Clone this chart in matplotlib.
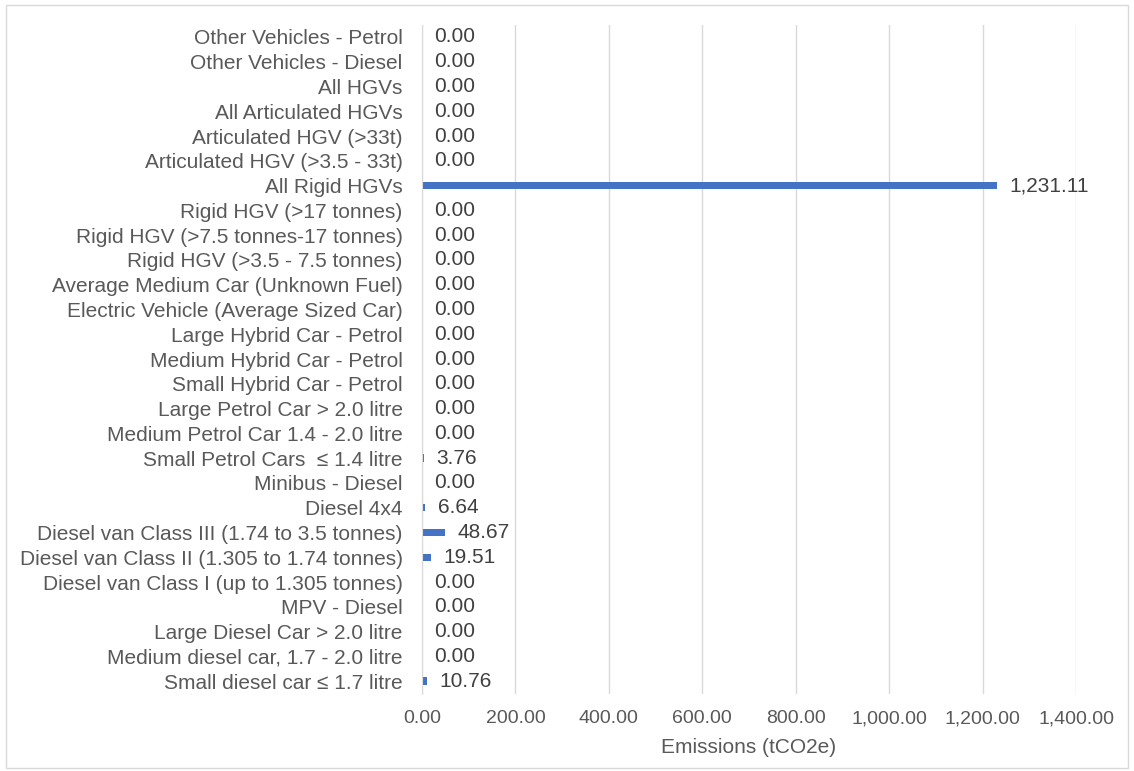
import matplotlib.pyplot as plt
from matplotlib.ticker import FuncFormatter, MultipleLocator

plt.rcParams['font.family'] = ['Liberation Sans', 'DejaVu Sans']

# vehicle types, listed bottom to top
vehicles = [
    "Small diesel car \u2264 1.7 litre",
    "Medium diesel car, 1.7 - 2.0 litre",
    "Large Diesel Car > 2.0 litre",
    "MPV - Diesel",
    "Diesel van Class I (up to 1.305 tonnes)",
    "Diesel van Class II (1.305 to 1.74 tonnes)",
    "Diesel van Class III (1.74 to 3.5 tonnes)",
    "Diesel 4x4",
    "Minibus - Diesel",
    "Small Petrol Cars  \u2264 1.4 litre",
    "Medium Petrol Car 1.4 - 2.0 litre",
    "Large Petrol Car > 2.0 litre",
    "Small Hybrid Car - Petrol",
    "Medium Hybrid Car - Petrol",
    "Large Hybrid Car - Petrol",
    "Electric Vehicle (Average Sized Car)",
    "Average Medium Car (Unknown Fuel)",
    "Rigid HGV (>3.5 - 7.5 tonnes)",
    "Rigid HGV (>7.5 tonnes-17 tonnes)",
    "Rigid HGV (>17 tonnes)",
    "All Rigid HGVs",
    "Articulated HGV (>3.5 - 33t)",
    "Articulated HGV (>33t)",
    "All Articulated HGVs",
    "All HGVs",
    "Other Vehicles - Diesel",
    "Other Vehicles - Petrol",
]
emissions = [10.76, 0.00, 0.00, 0.00, 0.00, 19.51, 48.67, 6.64, 0.00, 3.76,
             0.00, 0.00, 0.00, 0.00, 0.00, 0.00, 0.00, 0.00, 0.00, 0.00,
             1231.11, 0.00, 0.00, 0.00, 0.00, 0.00, 0.00]

text_col = '#595959'
bar_col = '#4472C4'

fig = plt.figure(figsize=(11.34, 7.71), dpi=100)
ax = fig.add_axes([422 / 1134, 1 - 693.5 / 771, 654 / 1134, 669 / 771])

ypos = range(len(vehicles))
bars = ax.barh(ypos, emissions, height=0.3, color=bar_col, zorder=3)

for y, v in zip(ypos, emissions):
    ax.annotate(f"{v:,.2f}", (v, y), xytext=(9, 0), textcoords='offset points',
                va='center', ha='left', fontsize=15, color='#404040')

ax.set_xlim(0, 1400)
ax.set_ylim(-0.5, len(vehicles) - 0.5)
ax.set_yticks(list(ypos))
ax.set_yticklabels(vehicles, fontsize=15, color=text_col)
ax.xaxis.set_major_locator(MultipleLocator(200))
ax.xaxis.set_major_formatter(FuncFormatter(lambda x, _: f"{x:,.2f}"))
ax.tick_params(axis='x', labelsize=14, labelcolor=text_col, length=0, pad=12)
ax.tick_params(axis='y', length=0, pad=14)
ax.grid(axis='x', color='#d9d9d9', linewidth=1, zorder=0)

for s in ['top', 'right', 'bottom']:
    ax.spines[s].set_visible(False)
ax.spines['left'].set_color('#d9d9d9')
ax.spines['left'].set_zorder(4)

ax.set_xlabel("Emissions (tCO2e)", fontsize=15, color=text_col, labelpad=8)

# light frame around the whole chart
fig.patches.append(plt.Rectangle((6 / 1134, 3 / 771), 1122 / 1134, 763 / 771,
                                 transform=fig.transFigure, fill=False,
                                 edgecolor='#d9d9d9', linewidth=1))

fig.savefig("out.png", dpi=100)
